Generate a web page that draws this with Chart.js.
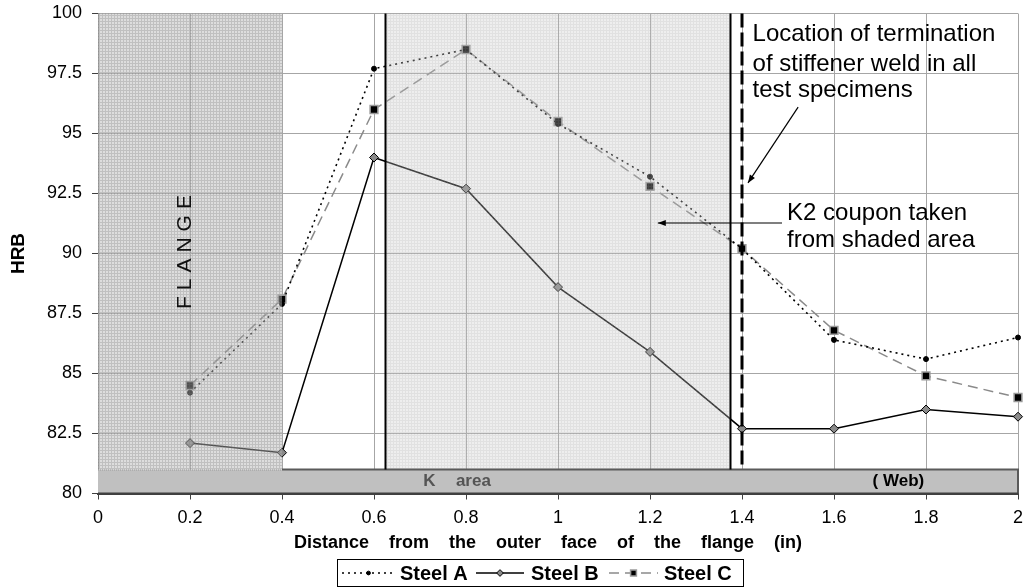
<!DOCTYPE html>
<html>
<head>
<meta charset="utf-8">
<script src="https://cdn.jsdelivr.net/npm/chart.js@4"></script>
<style>
  html, body { margin: 0; padding: 0; background: #ffffff; }
  #wrap { width: 1029px; height: 587px; }
</style>
</head>
<body>
<div id="wrap"><canvas id="hrbChart" width="1029" height="587"></canvas></div>
<script>
// Données
const distances = [0.2, 0.4, 0.6, 0.8, 1.0, 1.2, 1.4, 1.6, 1.8, 2.0];
const steelA = [84.2, 87.9, 97.7, 98.5, 95.4, 93.2, 90.2, 86.4, 85.6, 86.5];
const steelB = [82.1, 81.7, 94.0, 92.7, 88.6, 85.9, 82.7, 82.7, 83.5, 83.2];
const steelC = [84.5, 88.1, 96.0, 98.5, 95.5, 92.8, 90.2, 86.8, 84.9, 84.0];
const seriesNames = ["Steel A", "Steel B", "Steel C"];
const xTicks = [0, 0.2, 0.4, 0.6, 0.8, 1, 1.2, 1.4, 1.6, 1.8, 2];
const yTicks = [80, 82.5, 85, 87.5, 90, 92.5, 95, 97.5, 100];

// Zones (en unités du graphique)
const flangeEnd = 0.4;
const kArea = [0.625, 1.375];
const weldLine = 1.4;
const bandTop = 81;

const FONT = '"Liberation Sans", Arial, sans-serif';

function fmt(v) {
  return String(Number(Number(v).toFixed(1)));
}

function makePattern(ctx, fill, line) {
  const c = document.createElement("canvas");
  c.width = 3;
  c.height = 3;
  const g = c.getContext("2d");
  g.fillStyle = fill;
  g.fillRect(1, 1, 2, 2);
  g.fillStyle = line;
  g.fillRect(0, 0, 3, 1);
  g.fillRect(0, 1, 1, 2);
  return ctx.createPattern(c, "repeat");
}

function arrow(ctx, x1, y1, x2, y2) {
  ctx.beginPath();
  ctx.moveTo(x1, y1);
  ctx.lineTo(x2, y2);
  ctx.stroke();
  const a = Math.atan2(y2 - y1, x2 - x1);
  const len = 8, w = 3;
  ctx.beginPath();
  ctx.moveTo(x2, y2);
  ctx.lineTo(x2 - len * Math.cos(a) + w * Math.sin(a), y2 - len * Math.sin(a) - w * Math.cos(a));
  ctx.lineTo(x2 - len * Math.cos(a) - w * Math.sin(a), y2 - len * Math.sin(a) + w * Math.cos(a));
  ctx.closePath();
  ctx.fill();
}

const datasets = [
  {
    label: seriesNames[0],
    data: distances.map((d, i) => ({ x: d, y: steelA[i] })),
    borderColor: "#000000",
    borderWidth: 1.6,
    borderDash: [2, 4],
    pointStyle: "circle",
    pointRadius: 2.5,
    pointBackgroundColor: "#000000",
    pointBorderColor: "#000000",
    pointBorderWidth: 1,
  },
  {
    label: seriesNames[1],
    data: distances.map((d, i) => ({ x: d, y: steelB[i] })),
    borderColor: "#000000",
    borderWidth: 1.5,
    pointStyle: "rectRot",
    pointRadius: 4.5,
    pointBackgroundColor: "#8a8a8a",
    pointBorderColor: "#000000",
    pointBorderWidth: 1,
  },
  {
    label: seriesNames[2],
    data: distances.map((d, i) => ({ x: d, y: steelC[i] })),
    borderColor: "#8a8a8a",
    borderWidth: 1.5,
    borderDash: [10, 6],
    pointStyle: "rect",
    pointRadius: 5.5,
    pointBackgroundColor: "#000000",
    pointBorderColor: "#9a9a9a",
    pointBorderWidth: 1.5,
  },
];
datasets.forEach((ds) => {
  ds.clip = false;
  ds.tension = 0;
  ds.fill = false;
});

// Zones grisées, bande du bas, textes, flèches et légende
const decorPlugin = {
  id: "decor",
  afterDatasetsDraw(chart) {
    const { ctx, scales } = chart;
    const px = (v) => scales.x.getPixelForValue(v);
    const py = (v) => scales.y.getPixelForValue(v);
    ctx.save();

    // zones hachurées (par-dessus les courbes, comme l'original)
    ctx.fillStyle = makePattern(ctx, "rgba(180,180,180,0.45)", "rgba(150,150,150,0.6)");
    ctx.fillRect(px(0), py(100), px(flangeEnd) - px(0), py(bandTop) - py(100));
    ctx.fillStyle = makePattern(ctx, "rgba(200,200,200,0.3)", "rgba(180,180,180,0.4)");
    ctx.fillRect(px(kArea[0]), py(100), px(kArea[1]) - px(kArea[0]), py(bandTop) - py(100));

    // bande du bas
    ctx.fillStyle = "#c0c0c0";
    ctx.fillRect(px(0), py(bandTop), px(2) - px(0), py(80) - py(bandTop));
    ctx.strokeStyle = "#9a9a9a";
    ctx.lineWidth = 1;
    ctx.setLineDash([1, 1]);
    ctx.beginPath();
    ctx.moveTo(px(0), py(bandTop) + 0.5);
    ctx.lineTo(px(flangeEnd), py(bandTop) + 0.5);
    ctx.stroke();
    ctx.setLineDash([]);
    ctx.strokeStyle = "#5a5a5a";
    ctx.lineWidth = 2;
    ctx.beginPath();
    ctx.moveTo(px(flangeEnd), py(bandTop));
    ctx.lineTo(px(2), py(bandTop));
    ctx.lineTo(px(2), py(80));
    ctx.stroke();
    ctx.strokeStyle = "#404040";
    ctx.beginPath();
    ctx.moveTo(px(0), py(80));
    ctx.lineTo(px(2), py(80));
    ctx.stroke();

    // limites de la zone K
    ctx.strokeStyle = "#000000";
    ctx.lineWidth = 2;
    kArea.forEach((k) => {
      ctx.beginPath();
      ctx.moveTo(px(k), py(bandTop));
      ctx.lineTo(px(k), py(100));
      ctx.stroke();
    });

    // fin de soudure
    ctx.lineWidth = 3;
    ctx.setLineDash([14, 5]);
    ctx.beginPath();
    ctx.moveTo(px(weldLine), py(100));
    ctx.lineTo(px(weldLine), py(bandTop));
    ctx.stroke();
    ctx.setLineDash([]);

    // textes de la bande
    ctx.textBaseline = "middle";
    ctx.textAlign = "left";
    ctx.font = "bold 17px " + FONT;
    ctx.fillStyle = "#555555";
    ctx.fillText("K", px(0.707), py(80.5));
    ctx.fillText("area", px(0.778), py(80.5));
    ctx.fillStyle = "#000000";
    ctx.textAlign = "center";
    ctx.fillText("( Web)", px(1.74), py(80.5));

    // FLANGE vertical
    ctx.save();
    ctx.translate(px(0.189), py(90.06));
    ctx.rotate(-Math.PI / 2);
    ctx.font = "21px " + FONT;
    ctx.fillStyle = "#111111";
    const word = "FLANGE";
    const spacing = 6;
    const widths = Array.from(word).map((ch) => ctx.measureText(ch).width);
    const total = widths.reduce((a, b) => a + b, 0) + spacing * (word.length - 1);
    let cx = -total / 2;
    ctx.textAlign = "left";
    Array.from(word).forEach((ch, i) => {
      ctx.fillText(ch, cx, 0);
      cx += widths[i] + spacing;
    });
    ctx.restore();

    // annotations
    ctx.fillStyle = "#000000";
    ctx.textAlign = "left";
    ctx.textBaseline = "alphabetic";
    ctx.font = "24px " + FONT;
    ctx.fillText("Location of termination", px(1.423), py(98.87));
    ctx.fillText("of stiffener weld in all", px(1.423), py(97.62));
    ctx.fillText("test specimens", px(1.423), py(96.53));
    ctx.fillText("K2 coupon taken", px(1.498), py(91.4));
    ctx.fillText("from shaded area", px(1.498), py(90.28));

    ctx.strokeStyle = "#000000";
    ctx.lineWidth = 1.2;
    arrow(ctx, px(1.522), py(96.1), px(1.413), py(92.94));
    arrow(ctx, px(1.487), py(91.27), px(1.217), py(91.27));

    // légende
    const lx = 337, ly = 559, lw = 406, lh = 27;
    ctx.fillStyle = "#ffffff";
    ctx.fillRect(lx, ly, lw, lh);
    ctx.strokeStyle = "#000000";
    ctx.lineWidth = 1;
    ctx.strokeRect(lx + 0.5, ly + 0.5, lw, lh);
    const midY = ly + lh / 2 + 0.5;
    const samples = [
      { x0: 342, x1: 395, tx: 400 },
      { x0: 476, x1: 524, tx: 531 },
      { x0: 609, x1: 658, tx: 664 },
    ];
    ctx.font = "bold 20px " + FONT;
    ctx.textBaseline = "middle";
    datasets.forEach((ds, i) => {
      const s = samples[i];
      ctx.strokeStyle = ds.borderColor;
      ctx.lineWidth = ds.borderWidth;
      ctx.setLineDash(ds.borderDash || []);
      ctx.beginPath();
      ctx.moveTo(s.x0, midY);
      ctx.lineTo(s.x1, midY);
      ctx.stroke();
      ctx.setLineDash([]);
      ctx.fillStyle = ds.pointBackgroundColor;
      ctx.strokeStyle = ds.pointBorderColor;
      ctx.lineWidth = ds.pointBorderWidth;
      Chart.helpers.drawPoint(
        ctx,
        { pointStyle: ds.pointStyle, radius: ds.pointRadius * 0.75, rotation: 0, borderWidth: ds.pointBorderWidth },
        (s.x0 + s.x1) / 2,
        midY
      );
      ctx.fillStyle = "#000000";
      ctx.fillText(ds.label, s.tx, midY + 1);
    });

    ctx.restore();
  },
};

const ctx = document.getElementById("hrbChart").getContext("2d");

const config = {
  type: "line",
  data: { datasets: datasets },
  options: {
    responsive: false,
    animation: false,
    devicePixelRatio: 1,
    layout: { padding: { top: 13.5, right: 11, bottom: 0, left: 0 } },
    plugins: {
      legend: { display: false },
      tooltip: { enabled: false },
    },
    scales: {
      x: {
        type: "linear",
        min: 0,
        max: 2,
        afterBuildTicks: (scale) => {
          scale.ticks = xTicks.map((v) => ({ value: v }));
        },
        afterFit: (scale) => {
          scale.height = 93.5;
          scale.paddingLeft = 0;
          scale.paddingRight = 0;
        },
        ticks: {
          autoSkip: false,
          maxRotation: 0,
          padding: 8,
          color: "#000000",
          font: { family: FONT, size: 18 },
          callback: (v) => fmt(v),
        },
        grid: {
          color: "#a6a6a6",
          lineWidth: 1,
          tickLength: 6,
          tickColor: "#404040",
        },
        border: { display: true, color: "#404040", width: 2 },
        title: {
          display: true,
          text: "Distance    from    the    outer    face    of    the    flange    (in)    ",
          color: "#000000",
          font: { family: FONT, size: 18, weight: "bold" },
          padding: { top: 0, bottom: 33 },
        },
      },
      y: {
        type: "linear",
        min: 80,
        max: 100,
        afterBuildTicks: (scale) => {
          scale.ticks = yTicks.map((v) => ({ value: v }));
        },
        afterFit: (scale) => {
          scale.width = 98;
          scale.paddingTop = 0;
          scale.paddingBottom = 0;
        },
        ticks: {
          padding: 10,
          color: "#000000",
          font: { family: FONT, size: 18 },
          callback: (v) => fmt(v),
        },
        grid: {
          color: "#a6a6a6",
          lineWidth: 1,
          tickLength: 6,
          tickColor: "#404040",
        },
        border: { display: true, color: "#8a8a8a", width: 1 },
        title: {
          display: true,
          text: "HRB",
          color: "#000000",
          font: { family: FONT, size: 19, weight: "bold" },
          padding: { top: 7, bottom: 0 },
        },
      },
    },
  },
  plugins: [decorPlugin],
};

const hrbChart = new Chart(ctx, config);
</script>
</body>
</html>
